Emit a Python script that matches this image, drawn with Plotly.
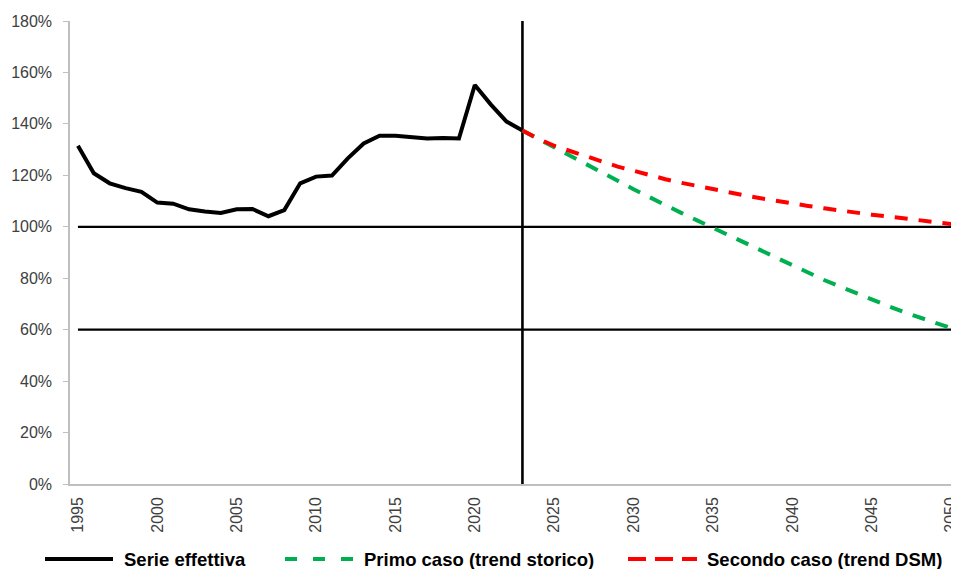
import plotly.graph_objects as go

# ---- data ----
years_actual = list(range(1995, 2024))
serie_effettiva = [131.5, 120.8, 116.9, 115.0, 113.6, 109.4, 109.0, 106.8, 105.9, 105.4,
                   106.8, 106.9, 104.1, 106.5, 116.9, 119.5, 119.9, 126.6, 132.4, 135.4,
                   135.4, 134.9, 134.3, 134.5, 134.3, 155.1, 147.6, 140.9, 137.4]

years_proj = list(range(2023, 2051))
primo_caso = [137.4, 134.2, 131.1, 127.8, 124.5, 121.2, 117.9, 114.6, 111.4, 108.4,
              105.4, 102.5, 99.6, 96.7, 93.8, 90.8, 87.8, 84.7, 81.9, 79.3,
              76.8, 74.2, 71.8, 69.3, 66.9, 65.0, 62.7, 60.6]
secondo_caso = [137.4, 134.2, 131.5, 129.4, 127.3, 125.2, 123.4, 121.8, 120.1, 118.5,
                117.1, 115.8, 114.6, 113.4, 112.2, 111.1, 110.0, 109.0, 108.1, 107.2,
                106.3, 105.4, 104.7, 104.0, 103.2, 102.5, 101.7, 101.1]

years_all = list(range(1995, 2051))
soglia_100 = [100.0] * len(years_all)
soglia_60 = [60.0] * len(years_all)
anno_corrente = 2023
y_min, y_max = 0.0, 180.0

tick_years = list(range(1995, 2051, 5))
y_ticks = [0, 20, 40, 60, 80, 100, 120, 140, 160, 180]

names = ["Serie effettiva", "Primo caso (trend storico)", "Secondo caso (trend DSM)"]
colors = ["#000000", "#00B050", "#FF0000"]

def pct(v):
    return [x / 100.0 for x in v]

# page layout (the page body adds an 8px offset)
PAGE_OFF = 8
PLOT_L, PLOT_R, PLOT_T, PLOT_B = 70, 959, 21, 484

def xp(px):
    return (px - PLOT_L) / (PLOT_R - PLOT_L)

def yp(py):
    return (PLOT_B - py) / (PLOT_B - PLOT_T)

fig = go.Figure()

# reference lines
fig.add_trace(go.Scatter(x=years_all, y=pct(soglia_100), mode="lines",
                         line=dict(color="#000000", width=2.3), showlegend=False, hoverinfo="skip"))
fig.add_trace(go.Scatter(x=years_all, y=pct(soglia_60), mode="lines",
                         line=dict(color="#000000", width=2.3), showlegend=False, hoverinfo="skip"))
fig.add_trace(go.Scatter(x=[anno_corrente, anno_corrente], y=pct([y_min, y_max]), mode="lines",
                         line=dict(color="#000000", width=2.6), showlegend=False, hoverinfo="skip"))

fig.add_trace(go.Scatter(x=years_actual, y=pct(serie_effettiva), mode="lines", name=names[0],
                         line=dict(color=colors[0], width=4), showlegend=False))
fig.add_trace(go.Scatter(x=years_proj, y=pct(primo_caso), mode="lines", name=names[1],
                         line=dict(color=colors[1], width=4, dash="13px,11px"), showlegend=False))
fig.add_trace(go.Scatter(x=years_proj, y=pct(secondo_caso), mode="lines", name=names[2],
                         line=dict(color=colors[2], width=4, dash="13px,11px"), showlegend=False))

# legend (drawn below the plot, like the original)
legend_key_x = [(45, 113), (285, 355), (628, 697)]
legend_text_x = [122, 362, 705]
legend_dash = ["solid", "12px,16px", "18px,9px"]
legend_y = 559
for i in range(3):
    fig.add_shape(type="line", xref="paper", yref="paper",
                  x0=xp(legend_key_x[i][0]), x1=xp(legend_key_x[i][1]),
                  y0=yp(legend_y), y1=yp(legend_y),
                  line=dict(color=colors[i], width=4, dash=legend_dash[i]))
    fig.add_annotation(xref="paper", yref="paper", x=xp(legend_text_x[i]), y=yp(legend_y),
                       xanchor="left", yanchor="middle", showarrow=False, text=names[i],
                       font=dict(family="Liberation Sans, Arial, sans-serif", size=18.5,
                                 color="#000000", weight="bold"))

fig.update_layout(
    width=959 - PAGE_OFF, height=569 - PAGE_OFF,
    margin=dict(l=PLOT_L - PAGE_OFF, r=0, t=PLOT_T - PAGE_OFF, b=569 - PLOT_B, autoexpand=False),
    paper_bgcolor="white", plot_bgcolor="white",
    font=dict(family="Liberation Sans, Arial, sans-serif", size=16, color="#404040"),
    showlegend=False,
)

fig.update_xaxes(range=[1994.5, 2050.5], tickmode="array", tickvals=tick_years,
                 ticktext=[str(t) for t in tick_years], tickangle=-90,
                 showgrid=False, zeroline=False, showline=True, linecolor="#BFBFBF", linewidth=1.5,
                 ticks="", ticklabelstandoff=5, ticklabeloverflow="allow",
                 tickfont=dict(size=16, color="#404040"))
fig.update_yaxes(range=[0, 1.8], tickmode="array", tickvals=pct(y_ticks), tickformat=".0%",
                 showgrid=False, zeroline=False, showline=True, linecolor="#BFBFBF", linewidth=1.5,
                 ticks="outside", ticklen=5, tickcolor="#BFBFBF", ticklabelstandoff=8,
                 tickfont=dict(size=16, color="#404040"))

fig.write_html("out.html")
